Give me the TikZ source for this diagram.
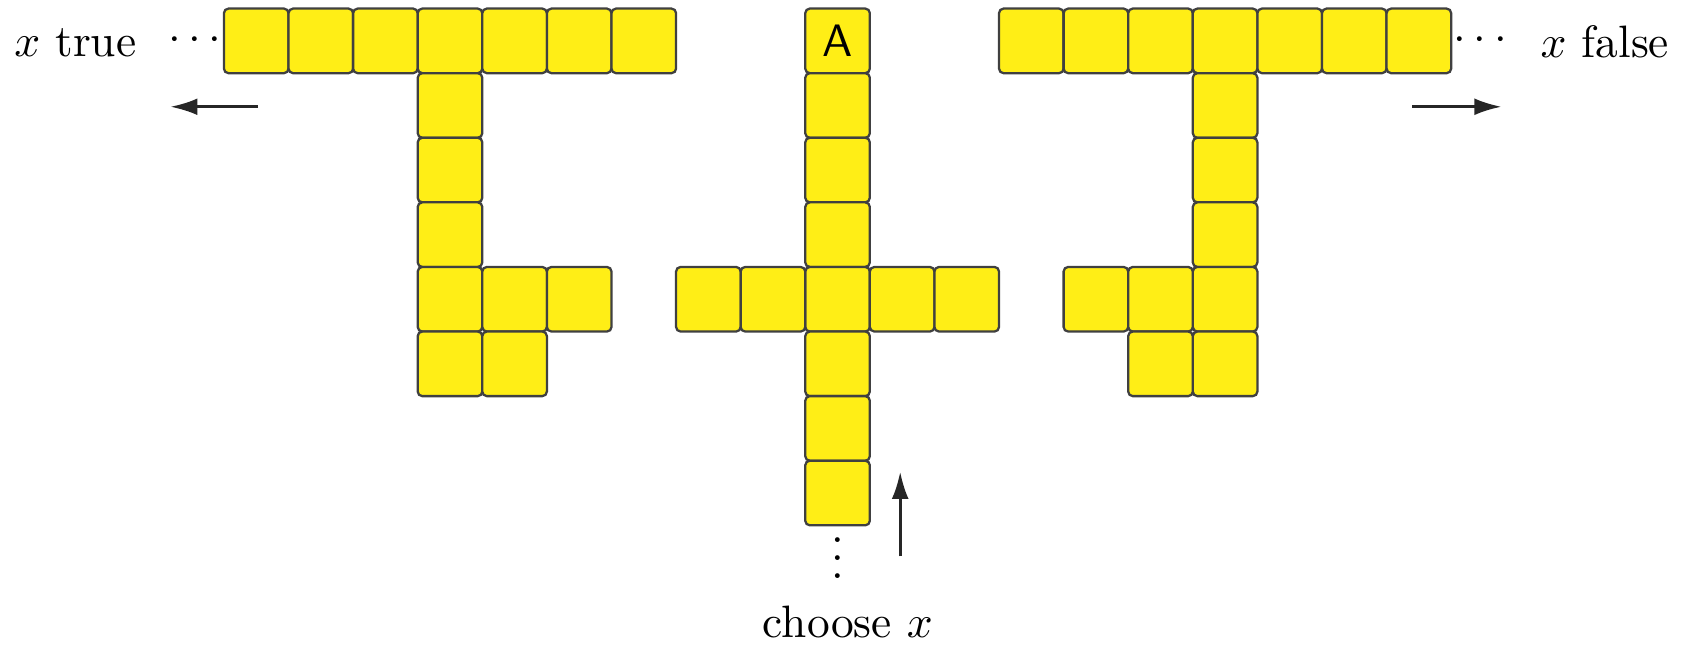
\documentclass[tikz,border=0pt]{standalone}
\usepackage{tikz}
\usetikzlibrary{positioning,arrows.meta}
\definecolor{tileyellow}{RGB}{255,238,22}

\begin{document}
\begin{tikzpicture}[x=5mm,y=5mm,>={Latex[length=2.1mm,width=1.3mm]}]
\tikzstyle{tile}=[draw=black!75,fill=tileyellow,rounded corners=1pt,
  minimum size=5mm,inner sep=0pt,line width=0.5pt,font=\sffamily]
\tikzstyle{dirarrow}=[->,line width=0.6pt,black!85]
\useasboundingbox (-3.467,0.133) rectangle (22.667,-9.85);

% left branch (x true)
\foreach \c in {0,...,6} \node[tile] (l-\c-0) at (\c+0.5,-0.5) {};
\foreach \r in {1,...,5} \node[tile] (l-3-\r) at (3.5,-\r-0.5) {};
\node[tile] (l-4-4) at (4.5,-4.5) {};
\node[tile] (l-5-4) at (5.5,-4.5) {};
\node[tile] (l-4-5) at (4.5,-5.5) {};

% middle cross
\node[tile] (m-9-0) at (9.5,-0.5) {A};
\foreach \r in {1,...,7} \node[tile] (m-9-\r) at (9.5,-\r-0.5) {};
\foreach \c in {7,8,10,11} \node[tile] (m-\c-4) at (\c+0.5,-4.5) {};

% right branch (x false)
\foreach \c in {12,...,18} \node[tile] (r-\c-0) at (\c+0.5,-0.5) {};
\foreach \r in {1,...,5} \node[tile] (r-15-\r) at (15.5,-\r-0.5) {};
\node[tile] (r-13-4) at (13.5,-4.5) {};
\node[tile] (r-14-4) at (14.5,-4.5) {};
\node[tile] (r-14-5) at (14.5,-5.5) {};

% labels
\node (dotsl) at (-0.45,-0.5) {$\cdots$};
\node[anchor=base] (xtrue) at (-2.3,-0.74) {$x$ true};
\node (dotsr) at (19.45,-0.5) {$\cdots$};
\node[anchor=base] (xfalse) at (21.38,-0.76) {$x$ false};
\node (vdotsm) at (9.5,-8.3) {$\vdots$};
\node[anchor=base] (choose) at (9.66,-9.73) {choose $x$};

% direction arrows
\coordinate (la-s) at (0.53,-1.52);
\coordinate (la-e) at (-0.83,-1.52);
\coordinate (ra-s) at (18.4,-1.52);
\coordinate (ra-e) at (19.78,-1.52);
\coordinate (ua-s) at (10.47,-8.48);
\coordinate (ua-e) at (10.47,-7.17);
\draw[dirarrow] (la-s) -- (la-e);
\draw[dirarrow] (ra-s) -- (ra-e);
\draw[dirarrow] (ua-s) -- (ua-e);
\end{tikzpicture}
\end{document}
